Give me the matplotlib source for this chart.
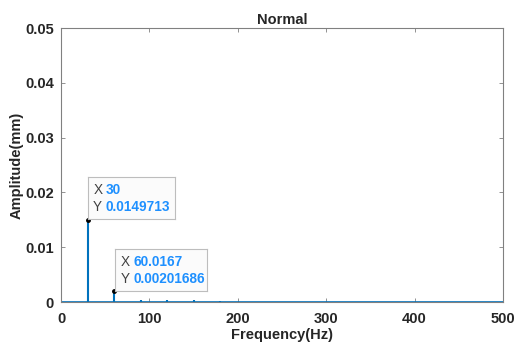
import matplotlib
matplotlib.use("Agg")
import matplotlib.pyplot as plt

plt.rcParams["font.family"] = ["Liberation Sans", "DejaVu Sans"]

peak_freqs = [30, 60.0167, 90, 120, 150, 180]
peak_amps = [0.0149713, 0.00201686, 0.0003, 0.0004, 0.0003, 0.0001]
base_freqs = [0, 500]
base_amps = [0.00005, 0.00005]
tip_x = ["30", "60.0167"]
tip_y = ["0.0149713", "0.00201686"]

fig = plt.figure(figsize=(5.15, 3.47), dpi=100)
ax = fig.add_axes([61/515, 1-302/347, (503-61)/515, (302-28)/347])
line_c = "#0072BD"
ax.plot(base_freqs, base_amps, color=line_c, lw=1.2)
ax.vlines(peak_freqs, 0, peak_amps, color=line_c, lw=1.5)
ax.set_xlim(0, 500)
ax.set_ylim(0, 0.05)
ax.set_xticks([0, 100, 200, 300, 400, 500])
ax.set_yticks([0, 0.01, 0.02, 0.03, 0.04, 0.05])
ax.set_yticklabels(["0", "0.01", "0.02", "0.03", "0.04", "0.05"])
for s in ax.spines.values():
    s.set_color("#808080")
    s.set_linewidth(0.8)
ax.tick_params(direction="in", length=3, width=0.6, colors="#808080",
               labelcolor="#262626", labelsize=10.5, top=True, right=True)
ax.tick_params(axis="x", pad=7)
ax.tick_params(axis="y", pad=5)
for lab in ax.get_xticklabels() + ax.get_yticklabels():
    lab.set_fontweight("bold")
ax.set_xlabel("Frequency(Hz)", fontsize=10.5, fontweight="bold", labelpad=2, color="#262626")
ax.set_ylabel("Amplitude(mm)", fontsize=10.5, fontweight="bold", labelpad=1, color="#262626")
ax.set_title("Normal", fontsize=10.5, fontweight="bold", pad=3, color="#262626")

# datatips
tip_boxes = [(30, 0.0149713, 88, 177, 175, 219), (60.0167, 0.00201686, 115, 249, 207, 291)]
for (px, py, x0, y0, x1, y1), tx, ty in zip(tip_boxes, tip_x, tip_y):
    ax.plot([px], [py], "o", color="black", ms=2.5, zorder=5)
    bx = fig.add_axes([x0/515, 1-y1/347, (x1-x0)/515, (y1-y0)/347])
    bx.set_xticks([]); bx.set_yticks([])
    bx.set_facecolor("#FBFBFB")
    for s in bx.spines.values():
        s.set_color("#BDBDBD"); s.set_linewidth(0.8)
    bx.text(0.06, 0.70, "X", transform=bx.transAxes, fontsize=9.8, color="#404040", va="center")
    bx.text(0.20, 0.70, tx, transform=bx.transAxes, fontsize=9.8, color="#1E90FF",
            fontweight="bold", va="center")
    bx.text(0.06, 0.28, "Y", transform=bx.transAxes, fontsize=9.8, color="#404040", va="center")
    bx.text(0.20, 0.28, ty, transform=bx.transAxes, fontsize=9.8, color="#1E90FF",
            fontweight="bold", va="center")

fig.savefig("out.png", dpi=100)
